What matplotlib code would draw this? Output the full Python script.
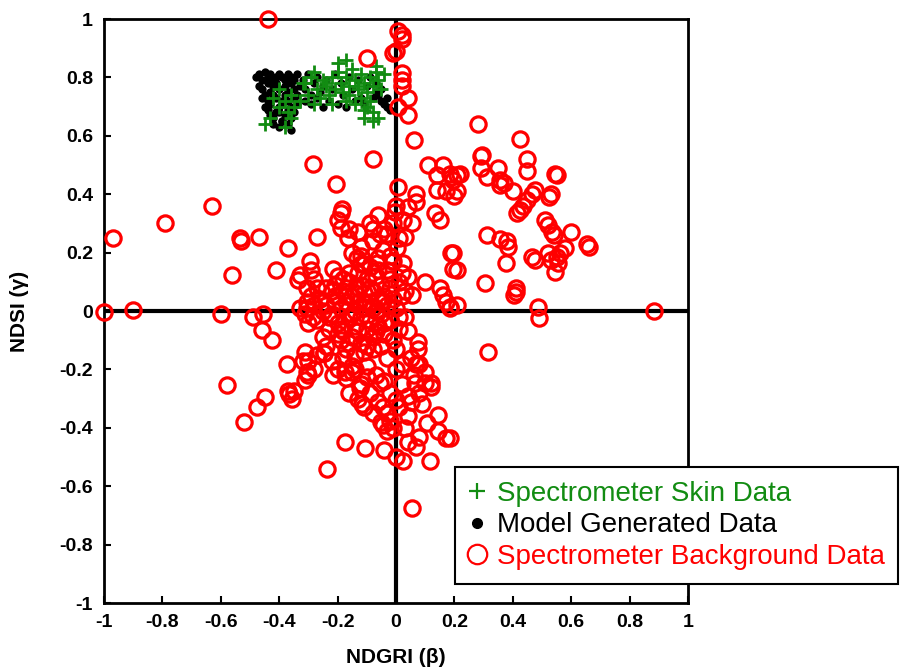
import matplotlib
matplotlib.use('Agg')
import matplotlib.pyplot as plt
from matplotlib.lines import Line2D

plt.rcParams['font.family'] = ['Liberation Sans', 'DejaVu Sans']

# ---- Model generated data (black dots) ----
model_x = [-0.48, -0.47, -0.46, -0.45, -0.44, -0.43, -0.42, -0.41, -0.40, -0.39, -0.38, -0.37, -0.36, -0.35, -0.34,
           -0.47, -0.46, -0.44, -0.43, -0.42, -0.41, -0.40, -0.38, -0.37, -0.36, -0.35, -0.33,
           -0.46, -0.45, -0.44, -0.42, -0.41, -0.39, -0.38, -0.37, -0.35, -0.34,
           -0.45, -0.44, -0.43, -0.41, -0.40, -0.39, -0.37, -0.36, -0.34,
           -0.43, -0.42, -0.40, -0.39, -0.38, -0.36, -0.35,
           -0.42, -0.40, -0.39, -0.37, -0.36,
           -0.32, -0.31, -0.30, -0.29, -0.28, -0.27, -0.26, -0.25, -0.24, -0.22,
           -0.21, -0.19, -0.18, -0.16, -0.15, -0.13, -0.12, -0.10, -0.09, -0.07,
           -0.31, -0.29, -0.27, -0.25, -0.23, -0.20, -0.17, -0.14, -0.11, -0.08,
           -0.06, -0.05, -0.04, -0.03, -0.02, -0.05, -0.03, -0.07]
model_y = [0.80, 0.81, 0.79, 0.82, 0.80, 0.81, 0.79, 0.80, 0.81, 0.80, 0.79, 0.81, 0.80, 0.79, 0.81,
           0.77, 0.76, 0.78, 0.75, 0.77, 0.78, 0.76, 0.77, 0.75, 0.78, 0.76, 0.77,
           0.73, 0.74, 0.72, 0.74, 0.73, 0.71, 0.74, 0.72, 0.73, 0.74,
           0.70, 0.69, 0.71, 0.68, 0.70, 0.72, 0.69, 0.70, 0.71,
           0.67, 0.66, 0.68, 0.65, 0.67, 0.66, 0.68,
           0.64, 0.63, 0.65, 0.64, 0.62,
           0.79, 0.76, 0.81, 0.74, 0.78, 0.80, 0.75, 0.77, 0.79, 0.76,
           0.81, 0.78, 0.74, 0.80, 0.76, 0.79, 0.73, 0.77, 0.80, 0.75,
           0.72, 0.71, 0.73, 0.70, 0.72, 0.71, 0.70, 0.72, 0.71, 0.73,
           0.74, 0.72, 0.71, 0.70, 0.69, 0.76, 0.73, 0.78]

# ---- Spectrometer skin data (green pluses) ----
skin_x = [-0.45, -0.43, -0.38, -0.36, -0.40, -0.38, -0.35, -0.42, -0.36, -0.33, -0.40, -0.37,
          -0.31, -0.29, -0.27, -0.30, -0.25, -0.28, -0.24, -0.22, -0.26, -0.21, -0.23, -0.19, -0.20,
          -0.17, -0.18, -0.16, -0.14, -0.15, -0.13, -0.12, -0.11, -0.10, -0.09, -0.08, -0.07, -0.06,
          -0.12, -0.14, -0.10, -0.08, -0.06, -0.11, -0.09, -0.16, -0.05, -0.04, -0.17, -0.22, -0.28,
          -0.20, -0.17, -0.07, -0.32, -0.24, -0.13, -0.08, -0.11]
skin_y = [0.64, 0.66, 0.63, 0.66, 0.70, 0.72, 0.70, 0.73, 0.74, 0.72, 0.76, 0.68,
          0.78, 0.80, 0.76, 0.74, 0.79, 0.82, 0.77, 0.80, 0.73, 0.76, 0.74, 0.78, 0.82,
          0.80, 0.75, 0.77, 0.79, 0.83, 0.76, 0.81, 0.78, 0.75, 0.80, 0.77, 0.82, 0.79,
          0.73, 0.71, 0.70, 0.68, 0.66, 0.69, 0.72, 0.74, 0.76, 0.81, 0.72, 0.71, 0.71,
          0.85, 0.86, 0.84, 0.78, 0.78, 0.77, 0.65, 0.66]

# ---- Spectrometer background data (red circles), by region ----
top_x = [-0.44, 0.007, 0.02, 0.02, 0.0, -0.01, 0.02, 0.02, 0.02, 0.04, 0.007, 0.04, 0.06, -0.08,
         -0.10, -0.285, -0.205, 0.007, 0.07, 0.07, 0.04, -0.003]
top_y = [1.0, 0.96, 0.945, 0.93, 0.89, 0.885, 0.815, 0.79, 0.77, 0.73, 0.70, 0.67, 0.585, 0.52,
         0.865, 0.505, 0.435, 0.425, 0.40, 0.375, 0.355, 0.34]

right_x = [0.28, 0.29, 0.29, 0.11, 0.16, 0.185, 0.22, 0.14, 0.425, 0.295, 0.35, 0.45, 0.45, 0.545,
           0.55, 0.31, 0.355, 0.37, 0.40, 0.355, 0.21, 0.195, 0.21,
           0.475, 0.465, 0.45, 0.435, 0.425, 0.415, 0.53, 0.525, 0.51, 0.52, 0.535, 0.54, 0.60,
           0.655, 0.66, 0.58, 0.56, 0.55, 0.52, 0.53, 0.465, 0.475, 0.545, 0.555,
           0.31, 0.355, 0.38, 0.385, 0.375, 0.195, 0.21, 0.305, 0.41, 0.41, 0.405, 0.21, 0.185,
           0.485, 0.49, 0.885, 0.315, 0.185, 0.135, 0.15, 0.14, 0.17, 0.20, 0.19, 0.195, 0.10,
           0.15, 0.16, 0.17, 0.185]
right_y = [0.64, 0.53, 0.49, 0.50, 0.50, 0.47, 0.47, 0.465, 0.59, 0.535, 0.49, 0.52, 0.48, 0.47,
           0.465, 0.46, 0.45, 0.44, 0.41, 0.43, 0.465, 0.45, 0.41,
           0.415, 0.40, 0.38, 0.36, 0.345, 0.335, 0.40, 0.39, 0.31, 0.295, 0.27, 0.26, 0.27,
           0.23, 0.22, 0.215, 0.20, 0.185, 0.20, 0.175, 0.185, 0.175, 0.135, 0.165,
           0.26, 0.245, 0.24, 0.22, 0.165, 0.20, 0.14, 0.095, 0.08, 0.065, 0.055, 0.02, 0.015,
           0.015, -0.025, 0.0, -0.14, -0.435, 0.335, 0.31, 0.415, 0.41, 0.395, 0.20, 0.145, 0.10,
           0.08, 0.055, 0.03, 0.01]

left_x = [-0.97, -0.79, -0.63, -0.535, -0.53, -0.47, -0.37, -0.56, -0.41, -1.0, -0.90, -0.60,
          -0.49, -0.455, -0.46, -0.425, -0.375, -0.58, -0.45, -0.475, -0.52, -0.37, -0.365,
          -0.31, -0.305, -0.31, -0.35, -0.355]
left_y = [0.25, 0.30, 0.36, 0.25, 0.24, 0.255, 0.215, 0.125, 0.14, -0.005, 0.003, -0.01,
          -0.02, -0.01, -0.065, -0.10, -0.18, -0.255, -0.295, -0.33, -0.38, -0.275, -0.285,
          -0.14, -0.21, -0.235, -0.275, -0.30]

low_x = [-0.215, -0.175, -0.15, -0.10, -0.125, -0.115, -0.11, -0.055, -0.045, -0.03,
         -0.02, -0.045, -0.03, 0.0, 0.04, 0.05, 0.08, 0.065, 0.10, 0.12,
         0.145, 0.145, 0.17, 0.105, 0.08, 0.07, 0.04, 0.115, 0.0, 0.025,
         -0.04, -0.105, -0.175, -0.235, 0.055, 0.075, 0.075, 0.07, -0.245, -0.32, -0.30]
low_y = [-0.22, -0.21, -0.21, -0.225, -0.265, -0.32, -0.33, -0.245, -0.33, -0.35,
         -0.375, -0.39, -0.41, -0.305, -0.36, -0.31, -0.28, -0.245, -0.245, -0.245,
         -0.355, -0.41, -0.435, -0.385, -0.43, -0.465, -0.45, -0.515, -0.50, -0.515,
         -0.475, -0.47, -0.45, -0.54, -0.675, -0.105, -0.13, -0.18, -0.145, -0.17, -0.22]

mid_x = [-0.185, -0.19, -0.20, -0.19, -0.09, -0.08, -0.055, -0.03, -0.01, 0.025,
         0.055, 0.03, -0.27, -0.165, -0.045, 0.003, -0.15, -0.135, -0.11,
         -0.065, -0.015, 0.025, -0.295, -0.29, -0.215, -0.33, -0.335, -0.28, -0.305,
         -0.27, 0.04, 0.055, -0.305, -0.305, -0.285, -0.33, -0.245, -0.30]
mid_y = [0.35, 0.335, 0.31, 0.285, 0.30, 0.28, 0.265, 0.265, 0.30, 0.31,
         0.30, 0.255, 0.255, 0.25, 0.21, 0.215, 0.20, 0.18, 0.16,
         0.165, 0.17, 0.165, 0.17, 0.14, 0.145, 0.125, 0.105, 0.11, 0.08,
         0.08, 0.115, 0.055, 0.03, 0.01, -0.02, 0.01, -0.145, -0.17]

blob_x = [-0.24, -0.22, -0.21, -0.20, -0.19, -0.18, -0.18, -0.17, -0.16, -0.16,
          -0.15, -0.15, -0.14, -0.14, -0.13, -0.13, -0.12, -0.12, -0.11, -0.11,
          -0.10, -0.10, -0.09, -0.09, -0.08, -0.08, -0.07, -0.07, -0.06, -0.06,
          -0.05, -0.05, -0.04, -0.04, -0.03, -0.03, -0.02, -0.02, -0.01, -0.01,
          0.00, 0.01, 0.01, 0.02, 0.03, -0.23, -0.26, -0.27, -0.21, -0.19,
          -0.17, -0.14, -0.13, -0.12, -0.16, -0.09, -0.06, -0.11, -0.08, -0.05,
          -0.03, 0.00, 0.02, -0.01, 0.02, -0.20, -0.25, -0.24, -0.18, -0.15,
          -0.23, -0.21, -0.19, -0.17, -0.15, -0.13, -0.11, -0.09, -0.07, -0.05,
          -0.22, -0.20, -0.18, -0.16, -0.14, -0.12, -0.10, -0.08, -0.06, -0.04,
          -0.25, -0.28, -0.30, -0.29, -0.31, -0.02, 0.01, 0.03, 0.04, -0.12]
blob_y = [0.02, -0.01, 0.05, -0.04, 0.01, 0.07, -0.07, 0.03, -0.02, 0.10,
          0.05, -0.09, 0.00, -0.05, 0.08, 0.03, -0.02, -0.11, 0.06, 0.01,
          -0.06, 0.11, 0.03, -0.03, 0.07, -0.09, 0.00, 0.12, 0.04, -0.05,
          0.09, -0.01, 0.05, -0.08, 0.02, 0.14, -0.03, 0.08, 0.04, -0.10,
          0.01, 0.10, -0.06, 0.05, -0.02, -0.06, 0.04, -0.03, 0.09, -0.10,
          -0.13, -0.15, 0.13, 0.16, 0.13, 0.15, 0.18, -0.14, -0.13, -0.12,
          -0.16, -0.13, -0.18, 0.17, 0.13, 0.12, -0.09, 0.08, -0.16, -0.19,
          -0.02, 0.03, -0.06, 0.05, -0.01, -0.07, 0.03, 0.08, -0.07, 0.03,
          0.07, -0.08, 0.11, -0.11, 0.06, 0.09, -0.12, 0.01, 0.14, -0.04,
          0.00, 0.02, -0.04, 0.05, -0.01, 0.11, -0.02, 0.07, -0.07, 0.19]

chain_x = [-0.20, -0.17, -0.14, -0.12, -0.10, -0.09, -0.07, -0.06, -0.04, -0.03,
           -0.02, 0.00, 0.01, 0.02, 0.03, 0.04, -0.01, -0.05, -0.08, 0.06,
           0.05, 0.08, 0.10, 0.12, 0.09, -0.13, -0.16, -0.22, -0.24, -0.27, -0.28,
           -0.08, -0.04, -0.02, 0.00, -0.12, -0.16, -0.06, 0.01, -0.13]
chain_y = [-0.20, -0.23, -0.20, -0.25, -0.19, -0.28, -0.22, -0.31, -0.24, -0.35,
           -0.28, -0.20, -0.33, -0.25, -0.40, -0.29, -0.40, -0.38, -0.35, -0.22,
           -0.16, -0.18, -0.21, -0.26, -0.32, -0.30, -0.28, -0.17, -0.12, -0.15, -0.20,
           0.24, 0.28, 0.19, 0.36, 0.22, 0.28, 0.33, 0.25, 0.27]

bg_x = top_x + right_x + left_x + low_x + mid_x + blob_x + chain_x
bg_y = top_y + right_y + left_y + low_y + mid_y + blob_y + chain_y

ticks = [-1, -0.8, -0.6, -0.4, -0.2, 0, 0.2, 0.4, 0.6, 0.8, 1]
tick_labels = ['-1', '-0.8', '-0.6', '-0.4', '-0.2', '0', '0.2', '0.4', '0.6', '0.8', '1']

green = '#128c12'

fig = plt.figure(figsize=(9.11, 6.72), dpi=100)
ax = fig.add_axes([104 / 911, 1 - 603 / 672, 584 / 911, 584 / 672])

ax.axhline(0, color='k', lw=3, zorder=1)
ax.axvline(0, color='k', lw=3, zorder=1)

ax.plot(model_x, model_y, 'o', color='k', ms=6, mew=0, zorder=2)
ax.plot(skin_x, skin_y, '+', color=green, ms=10, mew=2, zorder=3)
ax.plot(bg_x, bg_y, 'o', mfc='none', mec='red', ms=11, mew=2.3, zorder=4, clip_on=False)

ax.set_xlim(-1, 1)
ax.set_ylim(-1, 1)
ax.set_xticks(ticks)
ax.set_xticklabels(tick_labels, fontweight='bold')
ax.set_yticks(ticks)
ax.set_yticklabels(tick_labels, fontweight='bold')
ax.tick_params(direction='in', length=5, width=1.5, labelsize=14, top=False, right=False, pad=8)
for s in ax.spines.values():
    s.set_linewidth(2)

ax.set_xlabel('NDGRI (β)', fontsize=15, fontweight='bold', labelpad=12)
ax.set_ylabel('NDSI (γ)', fontsize=15, fontweight='bold', labelpad=22)

handles = [Line2D([], [], ls='none', marker='+', color=green, ms=12, mew=1.6),
           Line2D([], [], ls='none', marker='o', color='k', ms=7),
           Line2D([], [], ls='none', marker='o', mfc='none', mec='red', ms=14, mew=1.6)]
labels = ['Spectrometer Skin Data', 'Model Generated Data', 'Spectrometer Background Data']
leg = fig.legend(handles, labels, loc='upper left', bbox_to_anchor=(455 / 911, 1 - 467 / 672),
                 borderaxespad=0, fontsize=20, frameon=True, fancybox=False, edgecolor='k',
                 framealpha=1, handlelength=0.6, handletextpad=0.4, labelspacing=0.2,
                 borderpad=0.5, labelcolor=[green, 'k', 'red'])
leg.get_frame().set_linewidth(1.5)

fig.savefig('out.png', dpi=100)
